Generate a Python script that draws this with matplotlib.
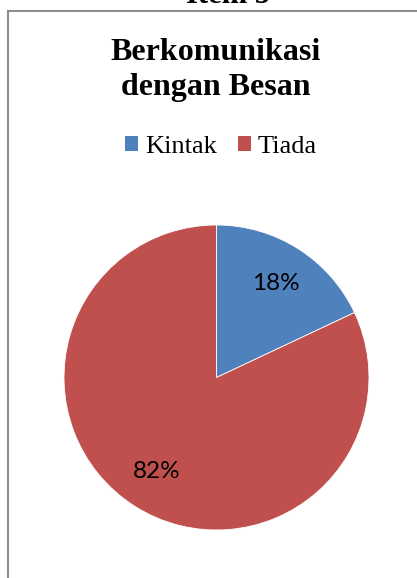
import matplotlib
matplotlib.use("Agg")
import matplotlib.pyplot as plt
from matplotlib.patches import Patch
from matplotlib.lines import Line2D

categories = ["Kintak", "Tiada"]
values = [18, 82]
colors = ["#4F81BD", "#C0504D"]
title = "Berkomunikasi\ndengan Besan"
header = "Item 5"

W, H = 417, 578
fig = plt.figure(figsize=(W / 100, H / 100), dpi=100)
fig.patch.set_facecolor("white")

# outer chart frame (extends past right/bottom edge)
fig.add_artist(Line2D([8 / W, 8 / W], [0, 1 - 11 / H], color="#8c8c8c", lw=1.5,
                      transform=fig.transFigure))
fig.add_artist(Line2D([8 / W, 1], [1 - 11 / H, 1 - 11 / H], color="#8c8c8c", lw=1.5,
                      transform=fig.transFigure))

# cut-off header above the chart
fig.text(228 / W, 1 - 3 / H, header, ha="center", va="baseline",
         fontsize=22, fontweight="bold", family="Liberation Serif")

fig.text(216 / W, 1 - 70 / H, title, ha="center", va="center",
         fontsize=23, fontweight="bold", family="Liberation Serif",
         linespacing=1.3)

cx, cy, r = 216.5, 377.5, 152.5
ax = fig.add_axes([(cx - r) / W, (H - cy - r) / H, 2 * r / W, 2 * r / H])
wedges, texts, autotexts = ax.pie(
    values, colors=colors, startangle=90, counterclock=False,
    autopct="%1.0f%%", pctdistance=0.73, radius=1,
    wedgeprops=dict(edgecolor="white", linewidth=0.6),
    textprops=dict(fontsize=17.5, family="Lato", color="black"))
ax.set_xlim(-1, 1)
ax.set_ylim(-1, 1)
ax.set_aspect("equal")
ax.axis("off")

handles = [Patch(facecolor=c, edgecolor="none") for c in colors]
fig.legend(handles, categories, loc="center", bbox_to_anchor=(221 / W, 1 - 147 / H),
           ncol=2, frameon=False, handlelength=0.5, handleheight=0.5,
           handletextpad=0.25, columnspacing=0.8,
           prop=dict(family="Liberation Serif", size=19))

fig.savefig("out.png", dpi=100)
